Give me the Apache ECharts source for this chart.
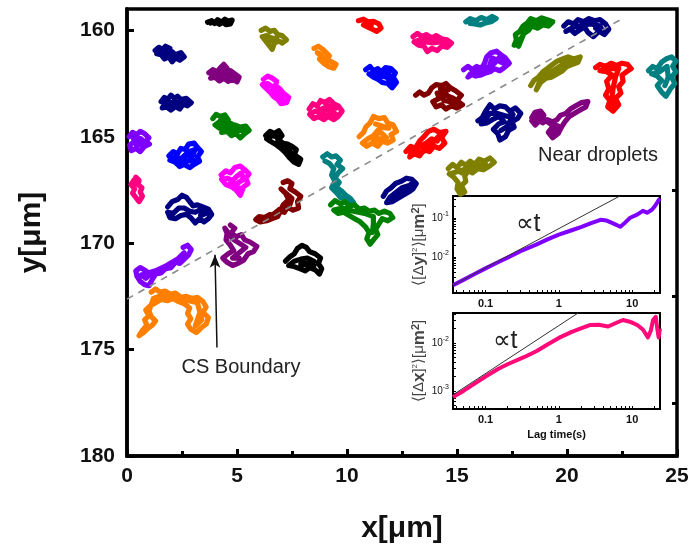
<!DOCTYPE html>
<html>
<head>
<meta charset="utf-8">
<script src="https://cdn.jsdelivr.net/npm/echarts/dist/echarts.min.js"></script>
<style>
  html, body { margin: 0; padding: 0; background: #fff; }
  #chart { width: 692px; height: 552px; }
</style>
</head>
<body>
<div id="chart"></div>
<script>
// ---- main panel: particle trajectories (x, y in µm) ----
const yTickLabels = [160, 165, 170, 175, 180];
const yMinorTicks = [162.5, 167.5, 172.5, 177.5];

const trackColors = [
  '#000000', '#000080', '#800080', '#000080', '#008000', '#8000ff', '#0000ff', '#ff00ff', '#ff0080',
  '#808000', '#ff0000', '#ff8000', '#ff0080', '#0000ff', '#008080', '#8000ff', '#ff00ff', '#800000',
  '#ff0080', '#ff8000', '#000000', '#ff0000', '#000080', '#008080', '#800000', '#000080', '#808000',
  '#008000', '#008000', '#000080', '#808000', '#ff0000', '#008080', '#800080', '#000080', '#800080',
  '#000000', '#8000ff', '#ff8000'
];

const trackPaths = [
  [[3.66,159.62],[3.85,159.55],[3.98,159.68],[4.12,159.5],[4.3,159.62],[4.45,159.48],[4.6,159.58],[4.78,159.52],[4.7,159.7],[4.5,159.74],[4.35,159.62],[4.2,159.72],[4.0,159.6],[3.8,159.66]],
  [[1.28,160.95],[1.45,160.8],[1.62,160.9],[1.75,160.75],[1.95,160.85],[1.85,161.05],[2.05,161.0],[2.2,161.15],[2.45,161.05],[2.6,161.25],[2.4,161.4],[2.2,161.3],[2.05,161.48],[1.9,161.25],[1.7,161.35],[1.55,161.15],[1.35,161.1],[1.5,160.98],[1.7,161.08],[1.85,160.95],[2.0,161.15],[2.3,161.25],[1.75,161.2],[1.5,161.05]],
  [[3.72,162.0],[3.9,161.85],[4.1,161.95],[4.25,161.75],[4.4,161.6],[4.55,161.78],[4.5,161.95],[4.7,161.9],[4.9,162.05],[5.1,162.2],[5.0,162.42],[4.8,162.3],[4.6,162.4],[4.4,162.25],[4.2,162.38],[4.0,162.2],[3.8,162.25],[3.95,162.08],[4.2,162.1],[4.4,162.0],[4.7,162.15],[4.9,162.25],[4.3,162.2],[4.05,162.05],[4.45,161.85]],
  [[1.55,163.35],[1.7,163.15],[1.85,163.25],[2.0,163.05],[2.15,163.2],[2.3,163.1],[2.45,163.25],[2.7,163.2],[2.92,163.4],[2.75,163.55],[2.55,163.48],[2.4,163.7],[2.2,163.58],[2.0,163.75],[1.8,163.6],[1.6,163.65],[1.75,163.42],[2.0,163.4],[2.25,163.38],[2.5,163.4],[2.7,163.35],[1.9,163.5],[2.3,163.55]],
  [[3.9,164.15],[4.05,163.95],[4.25,164.05],[4.45,163.98],[4.6,164.2],[4.4,164.35],[4.2,164.3],[4.0,164.45],[4.2,164.6],[4.45,164.5],[4.7,164.6],[4.9,164.45],[5.15,164.55],[5.4,164.5],[5.55,164.7],[5.35,164.85],[5.15,165.05],[4.95,164.85],[4.75,164.95],[4.55,164.75],[4.3,164.8],[4.6,164.65],[5.0,164.7],[5.3,164.7],[4.3,164.15],[4.15,164.4]],
  [[0.1,165.0],[0.25,164.8],[0.45,164.9],[0.6,164.75],[0.8,164.85],[1.0,165.05],[0.85,165.2],[1.02,165.35],[0.8,165.45],[0.6,165.7],[0.4,165.55],[0.2,165.65],[0.12,165.4],[0.3,165.25],[0.5,165.35],[0.65,165.1],[0.4,165.05],[0.7,165.3],[0.45,165.45],[0.3,165.1]],
  [[1.9,165.9],[2.1,165.7],[2.3,165.8],[2.45,165.55],[2.65,165.6],[2.8,165.35],[3.05,165.3],[3.2,165.5],[3.38,165.7],[3.2,165.95],[3.3,166.15],[3.05,166.3],[2.85,166.45],[2.6,166.3],[2.4,166.4],[2.2,166.2],[1.95,166.1],[2.2,165.95],[2.5,166.05],[2.7,165.85],[2.95,165.95],[3.1,165.6],[2.8,165.7],[2.35,166.15],[2.6,166.15],[3.1,166.1]],
  [[4.28,166.8],[4.5,166.6],[4.7,166.7],[4.9,166.45],[5.15,166.38],[5.35,166.55],[5.55,166.75],[5.4,166.95],[5.5,167.2],[5.3,167.35],[5.15,167.75],[4.95,167.5],[4.75,167.35],[4.5,167.25],[4.3,167.0],[4.55,166.95],[4.8,167.05],[5.0,166.85],[5.2,166.7],[5.3,167.0],[5.0,167.2],[4.7,167.2],[5.1,167.4]],
  [[0.4,166.9],[0.55,167.05],[0.5,167.25],[0.68,167.4],[0.6,167.6],[0.7,167.8],[0.55,168.05],[0.4,167.85],[0.25,167.65],[0.35,167.45],[0.18,167.25],[0.3,167.05],[0.45,167.2]],
  [[6.1,160.0],[6.3,159.9],[6.5,160.05],[6.7,160.0],[6.85,160.2],[7.05,160.25],[7.25,160.45],[7.05,160.6],[6.9,160.5],[6.7,160.6],[6.6,160.9],[6.45,160.7],[6.3,160.5],[6.15,160.3],[6.35,160.25],[6.55,160.35],[6.8,160.4],[6.5,160.5]],
  [[10.52,159.55],[10.75,159.48],[10.95,159.6],[11.2,159.58],[11.45,159.7],[11.55,159.9],[11.35,160.05],[11.15,159.95],[10.95,159.85],[10.75,159.75],[10.9,159.7],[11.1,159.78]],
  [[8.5,160.85],[8.7,160.75],[8.9,160.9],[9.05,161.05],[9.2,161.2],[9.0,161.3],[9.25,161.45],[9.5,161.6],[9.4,161.78],[9.15,161.7],[8.95,161.55],[8.75,161.35],[8.85,161.15],[8.65,161.05],[9.1,161.5],[8.8,161.2]],
  [[13.0,160.3],[13.2,160.15],[13.4,160.3],[13.6,160.2],[13.85,160.35],[14.05,160.25],[14.3,160.4],[14.55,160.45],[14.75,160.6],[14.55,160.8],[14.3,160.75],[14.1,160.95],[13.85,160.85],[13.65,161.0],[13.5,160.75],[13.25,160.7],[13.05,160.55],[13.3,160.45],[13.6,160.55],[13.9,160.6],[14.2,160.55],[14.5,160.65],[14.0,160.45],[13.5,160.4],[13.3,160.6]],
  [[10.85,161.85],[11.05,161.7],[11.2,161.9],[11.4,161.8],[11.55,161.95],[11.75,161.75],[12.0,161.8],[12.2,162.0],[12.1,162.2],[12.25,162.45],[12.05,162.7],[11.85,162.5],[11.6,162.45],[11.4,162.3],[11.2,162.2],[11.0,162.05],[11.3,162.05],[11.55,162.15],[11.8,162.2],[12.0,162.4],[11.9,162.0],[11.5,162.05],[11.3,161.9]],
  [[15.4,159.6],[15.6,159.45],[15.85,159.55],[16.1,159.4],[16.35,159.5],[16.6,159.35],[16.78,159.45],[16.55,159.6],[16.3,159.65],[16.05,159.75],[15.8,159.7],[15.6,159.68]],
  [[15.3,161.85],[15.5,161.7],[15.7,161.85],[15.9,161.7],[16.1,161.8],[16.25,161.55],[16.35,161.25],[16.55,161.05],[16.8,160.98],[17.0,161.15],[17.2,161.3],[17.38,161.55],[17.15,161.75],[16.95,161.9],[16.7,161.8],[16.5,161.95],[16.3,162.0],[16.1,162.1],[15.85,162.15],[15.6,162.05],[15.5,162.2],[15.9,161.95],[16.4,161.75],[16.7,161.55],[16.9,161.3],[17.1,161.55],[16.6,161.3],[16.5,161.6]],
  [[6.2,162.3],[6.4,162.15],[6.6,162.25],[6.8,162.4],[6.75,162.6],[6.95,162.75],[7.1,162.95],[7.35,163.15],[7.25,163.4],[7.0,163.45],[6.85,163.25],[6.65,163.1],[6.5,162.9],[6.3,162.7],[6.15,162.55],[6.4,162.5],[6.6,162.65],[6.95,163.0],[7.1,163.3],[6.9,163.15],[6.6,162.85]],
  [[13.12,163.05],[13.3,162.9],[13.5,163.05],[13.7,162.95],[13.85,162.7],[14.05,162.55],[14.3,162.6],[14.5,162.5],[14.7,162.7],[14.95,162.85],[15.2,163.05],[15.0,163.3],[15.25,163.5],[15.0,163.65],[14.75,163.55],[14.5,163.7],[14.3,163.5],[14.05,163.6],[13.9,163.35],[14.2,163.2],[14.1,162.95],[14.4,162.9],[14.6,163.1],[14.85,163.2],[15.0,163.45],[14.7,163.35],[14.4,163.3],[14.25,162.75],[14.6,162.8]],
  [[8.28,163.7],[8.45,163.45],[8.65,163.55],[8.8,163.3],[9.0,163.4],[9.2,163.25],[9.4,163.45],[9.6,163.55],[9.78,163.8],[9.6,164.05],[9.4,164.2],[9.15,164.05],[8.95,164.2],[8.7,164.05],[8.5,164.15],[8.3,163.95],[8.55,163.8],[8.8,163.85],[9.05,163.7],[9.3,163.8],[9.5,163.95],[9.2,163.95],[8.9,164.0],[8.65,163.8],[9.15,163.55],[9.5,163.65]],
  [[10.55,165.0],[10.75,164.8],[10.85,164.55],[11.05,164.35],[11.2,164.05],[11.45,164.15],[11.7,164.1],[11.85,164.35],[12.1,164.45],[12.25,164.75],[12.0,164.9],[12.1,165.15],[11.85,165.3],[11.6,165.2],[11.4,165.45],[11.15,165.3],[10.9,165.45],[10.7,165.3],[10.95,165.1],[11.2,164.95],[11.4,164.7],[11.6,164.85],[11.8,165.05],[11.5,165.1],[11.2,165.2],[11.55,164.55],[11.9,164.6],[11.3,164.4]],
  [[6.3,164.95],[6.5,164.75],[6.7,164.85],[6.9,164.72],[7.05,164.95],[6.85,165.15],[7.05,165.3],[7.3,165.35],[7.5,165.45],[7.7,165.6],[7.6,165.85],[7.9,166.05],[7.8,166.3],[7.6,166.2],[7.4,166.0],[7.2,165.75],[7.0,165.55],[6.75,165.35],[6.5,165.2],[6.35,165.1],[6.6,164.95],[6.8,165.0],[7.3,165.55],[7.5,165.8],[7.65,166.05]],
  [[12.68,165.7],[12.9,165.45],[13.1,165.55],[13.3,165.2],[13.5,165.0],[13.7,164.75],[13.95,164.65],[14.2,164.8],[14.5,164.75],[14.3,165.05],[14.45,165.3],[14.2,165.55],[13.95,165.45],[13.75,165.7],[13.5,165.6],[13.3,165.9],[13.05,165.8],[12.85,165.95],[12.95,165.65],[13.25,165.5],[13.6,165.3],[13.85,165.1],[14.1,165.2],[14.2,164.95],[13.7,165.5],[13.4,165.75],[13.1,165.7]],
  [[15.95,164.25],[16.15,164.1],[16.3,163.8],[16.5,163.5],[16.7,163.7],[16.95,163.55],[17.2,163.6],[17.4,163.8],[17.65,163.65],[17.9,163.9],[17.75,164.15],[17.5,164.3],[17.6,164.55],[17.35,164.7],[17.2,165.0],[16.95,165.15],[16.85,164.85],[16.65,164.65],[16.9,164.4],[17.15,164.3],[16.9,164.05],[16.6,164.2],[16.35,164.35],[16.1,164.4],[16.5,163.9],[16.8,163.9],[17.3,164.05],[17.55,163.95],[17.3,164.5],[17.0,164.7]],
  [[8.9,165.95],[9.1,165.8],[9.3,165.95],[9.5,165.9],[9.7,166.1],[9.55,166.3],[9.8,166.5],[9.6,166.7],[9.45,166.95],[9.65,167.15],[9.5,167.35],[9.75,167.55],[9.95,167.75],[10.15,167.9],[10.3,168.1],[10.1,168.12],[9.9,167.95],[9.7,167.85],[9.5,167.6],[9.3,167.4],[9.45,167.1],[9.3,166.8],[9.4,166.5],[9.2,166.25],[9.0,166.15]],
  [[7.1,167.15],[7.3,167.07],[7.5,167.2],[7.4,167.45],[7.65,167.6],[7.9,167.8],[7.75,168.05],[7.8,168.35],[7.55,168.45],[7.3,168.3],[7.15,168.55],[6.9,168.5],[6.7,168.7],[6.5,168.65],[6.25,168.8],[6.0,168.75],[5.85,168.9],[6.05,169.0],[6.35,168.95],[6.6,168.85],[6.85,168.75],[7.1,168.2],[7.35,167.95],[7.2,167.65],[7.0,167.45],[7.5,167.9],[7.4,168.2],[6.95,168.4],[6.4,168.85]],
  [[11.65,167.8],[11.8,167.55],[12.0,167.4],[12.2,167.2],[12.45,167.1],[12.7,166.95],[12.95,167.0],[13.15,167.2],[13.0,167.45],[12.8,167.6],[12.55,167.75],[12.3,167.9],[12.05,168.05],[11.8,168.1],[11.95,167.85],[12.25,167.6],[12.5,167.4],[12.8,167.3],[12.6,167.6],[12.2,167.8],[12.0,167.95],[12.95,167.2]],
  [[14.6,166.5],[14.8,166.3],[15.0,166.45],[15.2,166.2],[15.4,166.35],[15.6,166.15],[15.8,166.3],[16.0,166.05],[16.25,166.15],[16.5,166.0],[16.7,166.2],[16.45,166.4],[16.2,166.55],[15.95,166.5],[15.7,166.7],[15.5,166.6],[15.35,166.85],[15.4,167.1],[15.2,167.3],[15.35,167.6],[15.15,167.7],[15.0,167.45],[15.05,167.15],[14.85,166.9],[14.65,166.75],[15.0,166.65],[15.3,166.55],[15.9,166.35],[16.3,166.3],[15.2,166.7]],
  [[9.25,168.2],[9.45,168.0],[9.7,168.15],[9.9,168.05],[10.1,168.25],[10.35,168.2],[10.55,168.4],[10.8,168.35],[11.0,168.5],[11.25,168.45],[11.45,168.6],[11.7,168.5],[11.95,168.6],[12.08,168.8],[11.85,168.95],[11.6,168.85],[11.45,169.1],[11.3,169.35],[11.4,169.6],[11.2,169.85],[11.05,170.05],[10.9,169.8],[11.0,169.5],[10.85,169.25],[10.6,169.0],[10.35,168.85],[10.1,168.7],[9.85,168.55],[9.6,168.6],[9.4,168.45],[9.8,168.35],[10.3,168.5],[10.8,168.6],[11.2,168.75],[11.2,169.1],[11.15,169.5]],
  [[17.6,160.7],[17.7,160.45],[17.65,160.2],[17.85,160.05],[18.0,159.8],[18.2,159.65],[18.35,159.45],[18.6,159.55],[18.85,159.42],[19.1,159.5],[19.35,159.6],[19.15,159.8],[18.9,159.75],[18.65,159.9],[18.4,159.8],[18.25,160.0],[18.05,160.15],[17.9,160.4],[17.8,160.75],[18.1,160.0],[18.5,159.65],[19.0,159.62]],
  [[19.85,159.8],[20.05,159.6],[20.3,159.7],[20.5,159.5],[20.75,159.6],[21.0,159.45],[21.25,159.55],[21.5,159.5],[21.75,159.7],[21.9,159.95],[21.7,160.2],[21.45,160.05],[21.2,160.3],[20.95,160.1],[20.8,159.85],[20.55,160.0],[20.35,160.15],[20.15,159.95],[19.95,160.05],[20.3,159.85],[20.7,159.75],[21.1,159.7],[21.5,159.8],[21.6,160.0],[21.3,159.9]],
  [[18.35,162.6],[18.5,162.35],[18.7,162.2],[18.9,161.95],[19.1,161.8],[19.35,161.6],[19.55,161.45],[19.8,161.35],[20.05,161.25],[20.3,161.35],[20.6,161.25],[20.5,161.5],[20.25,161.6],[20.0,161.7],[19.8,161.9],[19.55,162.05],[19.3,162.2],[19.05,162.25],[18.8,162.45],[18.6,162.8],[18.8,162.3],[19.3,161.95],[19.8,161.6],[20.2,161.45]],
  [[21.3,161.75],[21.5,161.6],[21.75,161.7],[22.0,161.55],[22.25,161.65],[22.5,161.55],[22.75,161.6],[22.92,161.8],[22.7,161.95],[22.5,162.1],[22.55,162.4],[22.35,162.65],[22.45,162.95],[22.2,163.2],[22.35,163.5],[22.1,163.8],[21.85,163.6],[21.95,163.3],[21.75,163.05],[21.9,162.75],[21.8,162.4],[22.05,162.1],[21.8,161.95],[21.5,161.9],[21.9,161.8],[22.35,161.8],[22.2,162.2],[22.1,162.7],[22.05,163.1],[22.1,163.5]],
  [[23.7,161.9],[23.9,161.7],[24.1,161.8],[24.3,161.5],[24.5,161.35],[24.75,161.25],[24.95,161.45],[24.8,161.7],[24.95,161.95],[24.75,162.2],[24.9,162.5],[24.7,162.75],[24.5,163.1],[24.3,162.9],[24.1,162.6],[24.3,162.35],[24.1,162.15],[23.85,162.05],[24.2,161.95],[24.55,161.7],[24.6,162.2],[24.45,162.6]],
  [[18.4,164.1],[18.55,163.85],[18.8,163.8],[18.95,164.0],[18.75,164.25],[18.55,164.45],[18.4,164.25],[18.6,164.15],[18.9,164.35],[19.1,164.2],[19.35,164.3],[19.55,164.2],[19.7,164.0],[19.95,163.9],[20.15,163.7],[20.4,163.55],[20.65,163.4],[20.95,163.35],[20.85,163.6],[20.6,163.75],[20.35,163.9],[20.1,164.05],[19.9,164.3],[19.75,164.55],[19.6,164.85],[19.35,165.05],[19.15,164.8],[19.3,164.6],[19.5,164.45],[19.4,164.8],[19.6,164.5],[19.25,164.4],[18.9,164.15],[18.7,164.0]],
  [[1.85,168.3],[2.05,168.05],[2.3,167.95],[2.5,167.75],[2.7,167.85],[2.85,168.05],[3.0,168.25],[3.2,168.2],[3.45,168.3],[3.7,168.4],[3.85,168.65],[3.7,168.85],[3.5,169.0],[3.3,168.85],[3.1,169.05],[2.9,168.8],[2.7,168.65],[2.45,168.7],[2.2,168.85],[1.95,168.8],[1.85,168.55],[2.1,168.6],[2.35,168.35],[2.6,168.35],[2.85,168.5],[3.1,168.55],[3.3,168.45],[3.6,168.6],[3.35,168.7]],
  [[4.7,169.15],[4.9,169.3],[4.75,169.5],[4.95,169.7],[5.2,169.6],[5.35,169.85],[5.6,169.95],[5.9,170.15],[5.75,170.4],[5.5,170.5],[5.3,170.8],[5.05,170.95],[4.8,171.05],[4.55,170.9],[4.35,170.7],[4.6,170.5],[4.85,170.35],[4.7,170.1],[4.5,169.85],[4.55,169.55],[4.45,169.3],[4.8,169.8],[5.1,170.0],[5.4,170.2],[5.1,170.45],[4.8,170.7],[5.1,170.7]],
  [[7.2,170.85],[7.4,170.65],[7.6,170.5],[7.75,170.25],[7.95,170.1],[8.15,170.2],[8.3,170.4],[8.55,170.5],[8.8,170.7],[8.7,170.95],[8.85,171.2],[8.75,171.45],[8.55,171.25],[8.3,171.15],[8.1,171.3],[7.85,171.2],[7.6,171.1],[7.35,171.05],[7.6,170.85],[7.9,170.75],[8.2,170.7],[8.5,170.85],[8.2,170.95],[7.9,171.0],[8.5,171.05]],
  [[2.55,170.2],[2.75,170.1],[2.92,170.3],[2.8,170.55],[2.6,170.75],[2.4,170.95],[2.2,170.9],[2.0,171.15],[1.75,171.2],[1.55,171.4],[1.3,171.45],[1.15,171.7],[1.0,172.0],[0.8,171.95],[0.6,171.8],[0.45,171.55],[0.4,171.3],[0.6,171.15],[0.85,171.3],[1.05,171.45],[0.85,171.65],[0.65,171.5],[1.3,171.3],[1.8,171.05],[2.3,170.75],[2.6,170.45]],
  [[1.1,172.3],[1.3,172.15],[1.5,172.3],[1.75,172.25],[1.95,172.4],[2.2,172.35],[2.45,172.55],[2.7,172.5],[2.95,172.6],[3.2,172.55],[3.45,172.75],[3.6,173.0],[3.45,173.25],[3.7,173.5],[3.6,173.8],[3.35,174.0],[3.15,174.2],[2.9,174.05],[2.75,173.8],[2.9,173.55],[2.75,173.3],[2.85,173.05],[2.6,172.85],[2.35,172.75],[2.1,172.6],[1.85,172.7],[1.55,172.65],[1.3,172.8],[1.05,172.95],[0.85,173.15],[1.0,173.4],[0.8,173.6],[0.9,173.85],[0.7,174.1],[0.55,174.35],[0.75,174.2],[0.95,174.0],[1.15,173.85],[1.3,173.65],[1.1,173.45],[1.0,173.2],[1.2,172.6],[1.6,172.45],[2.0,172.5],[3.2,172.8],[3.4,173.6],[3.1,173.9],[3.3,173.3]]
];

// CS boundary (dashed) and the arrow pointing at it
const boundaryLine = [[0, 172.63], [22.4, 159.52]];
const arrowLine = [[4.09, 174.9], [4.0, 170.55]];

// ---- insets: mean squared displacement vs lag time ----
const lagTimesY = [0.036,0.05,0.07,0.1,0.15,0.2,0.3,0.5,0.7,1,1.5,2,2.7,3.7,4.5,5.5,6.9,8,9.4,11.7,14,16,18.6,20.5,22.4,24];
const msdY = [0.0019,0.0026,0.0036,0.0051,0.0074,0.0096,0.014,0.021,0.028,0.037,0.048,0.058,0.072,0.089,0.085,0.072,0.059,0.075,0.1,0.12,0.15,0.135,0.16,0.2,0.26,0.31];
const lagTimesX = [0.036,0.05,0.07,0.1,0.15,0.2,0.34,0.5,0.7,1,1.5,2,2.7,3.5,4.7,6,7.5,9,10.3,12,14,16.4,18,19.3,21,22,23,24];
const msdX = [0.00075,0.001,0.0014,0.002,0.0029,0.0036,0.0051,0.0068,0.0093,0.0127,0.017,0.02,0.0237,0.024,0.022,0.026,0.03,0.028,0.026,0.023,0.019,0.013,0.018,0.03,0.035,0.02,0.013,0.02];
const linearFitY = [[0.036, 0.0019], [6.8, 0.36]];
const linearFitX = [[0.036, 0.00083], [1.83, 0.042]];
const lagTickLabels = [0.1, 1, 10];
const msdYTickLabels = [0.01, 0.1];
const msdXTickLabels = [0.001, 0.01];

// minor tick positions of a log axis: 1..9 x 10^k inside [lo, hi]
function logMinorTicks(lo, hi) {
  const out = [];
  for (let k = -5; k <= 3; k++) {
    for (let m = 1; m <= 9; m++) {
      const v = +(m * Math.pow(10, k)).toPrecision(6);
      if (v >= lo && v <= hi) out.push(v);
    }
  }
  return out;
}

const FONT = 'Liberation Sans, Arial, Helvetica, sans-serif';
const pow10Label = v => '10{e|' + Math.round(Math.log10(v)) + '}';

function insetX(gridIndex, withName) {
  return {
    gridIndex, type: 'log', min: 0.036, max: 24,
    axisLine: { lineStyle: { color: '#000', width: 2 } },
    axisTick: { inside: true, length: 3, customValues: logMinorTicks(0.036, 24), lineStyle: { color: '#000', width: 1 } },
    axisLabel: { customValues: lagTickLabels, fontSize: 11, fontWeight: 'bold', color: '#111', margin: 5, fontFamily: FONT,
      formatter: v => String(+v.toPrecision(3)) },
    splitLine: { show: false },
    name: withName ? 'Lag time(s)' : '',
    nameLocation: 'middle', nameGap: 20,
    nameTextStyle: { fontSize: 11, fontWeight: 'bold', color: '#111', fontFamily: FONT }
  };
}

function insetY(gridIndex, lo, hi, labels, letter) {
  return {
    gridIndex, type: 'log', min: lo, max: hi,
    axisLine: { lineStyle: { color: '#000', width: 2 } },
    axisTick: { inside: true, length: 3, customValues: logMinorTicks(lo, hi), lineStyle: { color: '#000', width: 1 } },
    axisLabel: { customValues: labels, fontSize: 10, color: '#111', margin: 4, fontFamily: FONT,
      formatter: pow10Label, rich: { e: { fontSize: 7, verticalAlign: 'top', lineHeight: 14 } } },
    splitLine: { show: false },
    name: '⟨[Δ{b|' + letter + '}]{s|2}⟩[μ{b|m}{t|2}]',
    nameLocation: 'middle', nameRotate: 90, nameGap: 25,
    nameTextStyle: { fontSize: 15, color: '#444', fontFamily: FONT,
      rich: { b: { fontSize: 17, fontWeight: 'bold', color: '#444' }, s: { fontSize: 8, verticalAlign: 'top', color: '#444' },
              t: { fontSize: 11, fontWeight: 'bold', verticalAlign: 'top', color: '#444' } } }
  };
}

const trackSeries = trackPaths.map((path, i) => ({
  type: 'line', xAxisIndex: 0, yAxisIndex: 0, data: path,
  showSymbol: false, symbol: 'none', silent: true, z: 2,
  lineStyle: { color: trackColors[i], width: 5.2, join: 'round', cap: 'round' }
}));

const option = {
  animation: false,
  backgroundColor: '#fff',
  textStyle: { fontFamily: FONT },
  grid: [
    { left: 127, top: 9, width: 550, height: 447, show: true, borderColor: '#000', borderWidth: 3.5, backgroundColor: 'transparent' },
    { left: 453, top: 196, width: 207, height: 97, show: true, borderColor: '#000', borderWidth: 2, backgroundColor: '#fff' },
    { left: 453, top: 313, width: 207, height: 96, show: true, borderColor: '#000', borderWidth: 2, backgroundColor: '#fff' }
  ],
  xAxis: [
    {
      gridIndex: 0, type: 'value', min: 0, max: 25, interval: 5,
      axisLine: { lineStyle: { color: '#000', width: 3.5 } },
      axisTick: { inside: true, length: 7, lineStyle: { color: '#000', width: 3 } },
      minorTick: { show: true, splitNumber: 2, length: 5, lineStyle: { color: '#000', width: 3 } },
      splitLine: { show: false },
      axisLabel: { fontSize: 21, fontWeight: 'bold', color: '#111', margin: 10, fontFamily: FONT },
      name: 'x[μm]', nameLocation: 'middle', nameGap: 58,
      nameTextStyle: { fontSize: 30, fontWeight: 'bold', color: '#111', fontFamily: FONT }
    },
    insetX(1, false),
    insetX(2, true)
  ],
  yAxis: [
    {
      gridIndex: 0, type: 'value', min: 159, max: 180, inverse: true,
      axisLine: { lineStyle: { color: '#000', width: 3.5 } },
      axisTick: { inside: true, length: 7, customValues: yTickLabels, lineStyle: { color: '#000', width: 3 } },
      splitLine: { show: false },
      axisLabel: { customValues: yTickLabels, fontSize: 21, fontWeight: 'bold', color: '#111', margin: 12, fontFamily: FONT },
      name: 'y[μm]', nameLocation: 'middle', nameRotate: 90, nameGap: 80,
      nameTextStyle: { fontSize: 30, fontWeight: 'bold', color: '#111', fontFamily: FONT }
    },
    {
      gridIndex: 0, type: 'value', min: 159, max: 180, inverse: true,
      axisLine: { show: false },
      axisTick: { inside: true, length: 5, customValues: yMinorTicks, lineStyle: { color: '#000', width: 3 } },
      axisLabel: { show: false }, splitLine: { show: false }
    },
    insetY(1, 0.0012, 0.36, msdYTickLabels, 'y'),
    insetY(2, 0.00042, 0.042, msdXTickLabels, 'x')
  ],
  graphic: [
    { type: 'text', x: 241, y: 367, silent: true,
      style: { text: 'CS Boundary', fontSize: 20, fontFamily: FONT, fill: '#222', align: 'center', verticalAlign: 'middle' } },
    { type: 'text', x: 598, y: 155, silent: true,
      style: { text: 'Near droplets', fontSize: 20, fontFamily: FONT, fill: '#222', align: 'center', verticalAlign: 'middle' } },
    { type: 'text', x: 528, y: 224, z: 100, silent: true,
      style: { text: '∝t', fontSize: 25, fontFamily: FONT, fill: '#222', align: 'center', verticalAlign: 'middle' } },
    { type: 'text', x: 505, y: 341, z: 100, silent: true,
      style: { text: '∝t', fontSize: 25, fontFamily: FONT, fill: '#222', align: 'center', verticalAlign: 'middle' } }
  ],
  series: [
    ...trackSeries,
    {
      type: 'line', xAxisIndex: 0, yAxisIndex: 0, data: boundaryLine, symbol: 'none', silent: true, z: 3,
      lineStyle: { color: '#8a8a8a', width: 1.6, type: [7, 6] }
    },
    {
      type: 'line', xAxisIndex: 0, yAxisIndex: 0, silent: true, z: 3,
      data: [
        { value: arrowLine[0], symbol: 'none' },
        { value: arrowLine[1], symbol: 'arrow', symbolSize: [8, 13] }
      ],
      showSymbol: true,
      itemStyle: { color: '#111' },
      lineStyle: { color: '#111', width: 1.5 }
    },
    {
      type: 'line', xAxisIndex: 1, yAxisIndex: 2, data: lagTimesY.map((t, i) => [t, msdY[i]]),
      symbol: 'none', silent: true, z: 4,
      lineStyle: { color: '#8000ff', width: 4, join: 'round' }
    },
    {
      type: 'line', xAxisIndex: 1, yAxisIndex: 2, data: linearFitY, symbol: 'none', silent: true, z: 5,
      lineStyle: { color: '#333', width: 1 }
    },
    {
      type: 'line', xAxisIndex: 2, yAxisIndex: 3, data: lagTimesX.map((t, i) => [t, msdX[i]]),
      symbol: 'none', silent: true, z: 4,
      lineStyle: { color: '#ff0a78', width: 4, join: 'round' }
    },
    {
      type: 'line', xAxisIndex: 2, yAxisIndex: 3, data: linearFitX, symbol: 'none', silent: true, z: 5,
      lineStyle: { color: '#333', width: 1 }
    }
  ]
};

const chart = echarts.init(document.getElementById('chart'), null, { renderer: 'canvas' });
chart.setOption(option);
</script>
</body>
</html>
